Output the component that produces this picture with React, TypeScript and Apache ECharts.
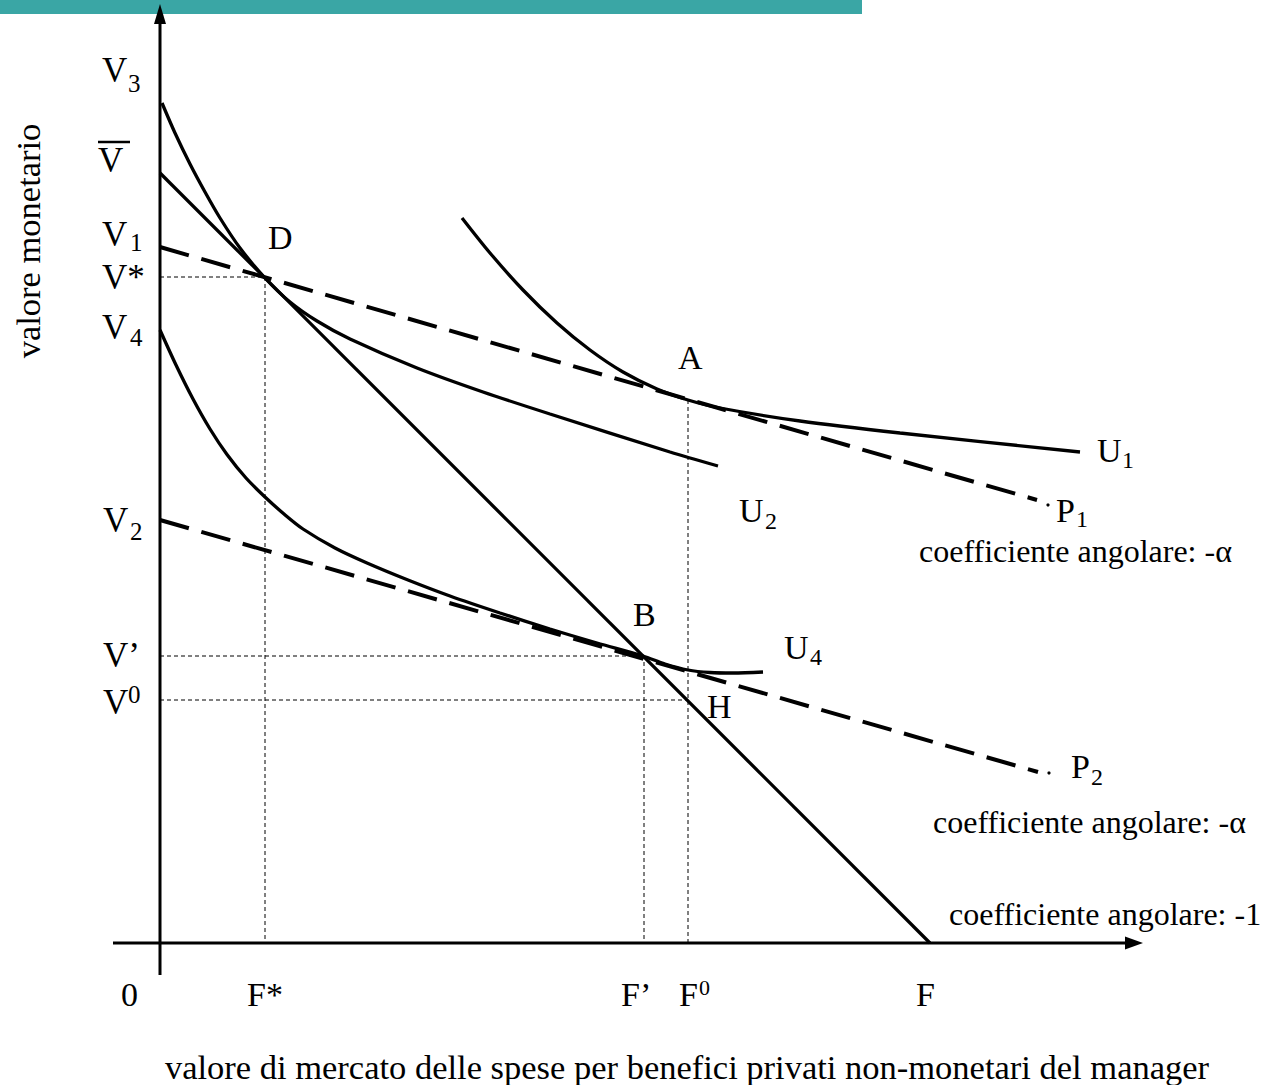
import React, { useEffect, useRef } from "react";
import * as echarts from "echarts";

// Chart units: x = spese per benefici (0..980), y = valore monetario (0..938)
const budgetLine = [[0, 770], [770, 0]];
const p1Line = [[0, 696], [877, 443]];
const p2Line = [[0, 423], [878, 171]];
const u1Curve = [[302, 725], [330, 690], [363, 653], [397, 620], [430, 593], [463, 571], [497, 554], [528, 543], [560, 535], [640, 522], [740, 510], [920, 491]];
const u2Curve = [[2, 840], [15, 810], [30, 779], [45, 751], [60, 725], [80, 695], [105, 665], [130, 641], [157, 622], [190, 604], [257, 575], [323, 551], [390, 529], [510, 491], [558, 477]];
const u4Curve = [[0, 613], [16, 578], [33, 544], [50, 514], [67, 488.5], [86, 465], [105, 446], [124, 429], [143, 414], [175, 395], [207, 380], [248, 363], [290, 347], [340, 330], [390, 314], [437, 300], [483, 287], [505, 279], [528, 273], [550, 270.5], [573, 270], [603, 271]];
const guideVStar = [[0, 666], [105, 666], [105, 0]];
const guideVPrime = [[0, 287], [484, 287], [484, 0]];
const guideV0h = [[0, 243], [528, 243]];
const guideV0v = [[528, 543], [528, 0]];

// Text labels: [main, sub, left, centerY, subLeft, subCenterY]
const axisLabelsY: [string, string, number, number, number, number][] = [
  ["V", "3", 102, 70, 128, 83],
  ["V", "", 98, 160, 0, 0],
  ["V", "1", 102, 234, 130, 242],
  ["V*", "", 102, 277, 0, 0],
  ["V", "4", 102, 327, 130, 337],
  ["V", "2", 103, 520, 130, 531],
  ["V\u2019", "", 103, 655, 0, 0],
  ["V", "0", 103, 702, 128, 694],
];
const axisLabelsX: [string, string, number, number, number, number][] = [
  ["0", "", 121, 994, 0, 0],
  ["F*", "", 247, 994, 0, 0],
  ["F\u2019", "", 621, 994, 0, 0],
  ["F", "0", 679, 994, 699, 987],
  ["F", "", 916, 994, 0, 0],
];
const pointLabels: [string, string, number, number, number, number][] = [
  ["D", "", 268, 237, 0, 0],
  ["A", "", 678, 357, 0, 0],
  ["B", "", 633, 614, 0, 0],
  ["H", "", 707, 706, 0, 0],
  ["U", "1", 1097, 450, 1122, 460],
  ["U", "2", 739, 510, 765, 521],
  ["U", "4", 784, 647, 810, 657],
  ["P", "1", 1056, 510, 1076, 519],
  ["P", "2", 1071, 766, 1091, 777],
];
const slopeNotes: [string, number, number][] = [
  ["coefficiente angolare: -\u03b1", 919, 551],
  ["coefficiente angolare: -\u03b1", 933, 822],
  ["coefficiente angolare: -1", 949, 914],
];
const yTitle = "valore monetario";
const xTitle = "valore di mercato delle spese per benefici privati non-monetari del manager";

const FONT = '"Liberation Serif", "Times New Roman", serif';

function lbl(main: string, sub: string, x: number, y: number, sx: number, sy: number, size = 35, subSize = 25): any[] {
  const out: any[] = [
    { type: "text", x, y, style: { text: main, fontSize: size, fontFamily: FONT, fill: "#000", align: "left", verticalAlign: "middle" } },
  ];
  if (sub) {
    out.push({ type: "text", x: sx, y: sy, style: { text: sub, fontSize: subSize, fontFamily: FONT, fill: "#000", align: "left", verticalAlign: "middle" } });
  }
  return out;
}

export default function App() {
  const ref = useRef<HTMLDivElement>(null);
  useEffect(() => {
    if (!ref.current) return;
    const chart = echarts.init(ref.current, undefined, { renderer: "svg" });
    const solid = (data: number[][], smooth: number | boolean = false) => ({
      type: "line", data, smooth, symbol: "none", silent: true,
      lineStyle: { color: "#000", width: 3.3 },
    });
    const dashed = (data: number[][]) => ({
      type: "line", data, symbol: "none", silent: true,
      lineStyle: { color: "#000", width: 4, type: [30, 13] },
    });
    const dotted = (data: number[][]) => ({
      type: "line", data, symbol: "none", silent: true,
      lineStyle: { color: "#000", width: 1, type: [4, 3] },
    });

    const graphic: any[] = [
      { type: "rect", shape: { x: 0, y: 0, width: 862, height: 14 }, style: { fill: "#3aa6a5" } },
      { type: "line", shape: { x1: 160, y1: 20, x2: 160, y2: 975 }, style: { stroke: "#000", lineWidth: 3 } },
      { type: "polygon", shape: { points: [[160, 4], [154, 24], [166, 24]] }, style: { fill: "#000" } },
      { type: "line", shape: { x1: 113, y1: 943, x2: 1128, y2: 943 }, style: { stroke: "#000", lineWidth: 3 } },
      { type: "polygon", shape: { points: [[1143, 943], [1125, 936.5], [1125, 949.5]] }, style: { fill: "#000" } },
      { type: "line", shape: { x1: 98, y1: 142, x2: 130, y2: 142 }, style: { stroke: "#000", lineWidth: 2.5 } },
      { type: "circle", shape: { cx: 1048, cy: 505, r: 1.6 }, style: { fill: "#000" } },
      { type: "circle", shape: { cx: 1049, cy: 773, r: 1.6 }, style: { fill: "#000" } },
    ];
    axisLabelsY.forEach((l) => graphic.push(...lbl(l[0], l[1], l[2], l[3], l[4], l[5])));
    axisLabelsX.forEach((l) => graphic.push(...lbl(l[0], l[1], l[2], l[3], l[4], l[5], 34, 22)));
    pointLabels.forEach((l) => graphic.push(...lbl(l[0], l[1], l[2], l[3], l[4], l[5], 34, 24)));
    slopeNotes.forEach((n) => graphic.push({ type: "text", x: n[1], y: n[2], style: { text: n[0], fontSize: 32, fontFamily: FONT, fill: "#000", align: "left", verticalAlign: "middle" } }));
    graphic.push({ type: "text", x: 28, y: 241, rotation: Math.PI / 2, style: { text: yTitle, fontSize: 34.5, fontFamily: FONT, fill: "#000", align: "center", verticalAlign: "middle" } });
    graphic.push({ type: "text", x: 687, y: 1067, style: { text: xTitle, fontSize: 34.5, fontFamily: FONT, fill: "#000", align: "center", verticalAlign: "middle" } });

    chart.setOption({
      animation: false,
      backgroundColor: "#fff",
      grid: { left: 160, right: 125, top: 5, bottom: 142 },
      xAxis: { type: "value", min: 0, max: 980, show: false },
      yAxis: { type: "value", min: 0, max: 938, show: false },
      series: [
        dotted(guideVStar), dotted(guideVPrime), dotted(guideV0h), dotted(guideV0v),
        solid(budgetLine),
        dashed(p1Line), dashed(p2Line),
        solid(u1Curve, 0.3), solid(u2Curve, 0.3), solid(u4Curve, 0.3),
      ],
      graphic,
    });
    return () => chart.dispose();
  }, []);
  return <div ref={ref} style={{ position: "absolute", left: 0, top: 0, width: 1265, height: 1085 }} />;
}
